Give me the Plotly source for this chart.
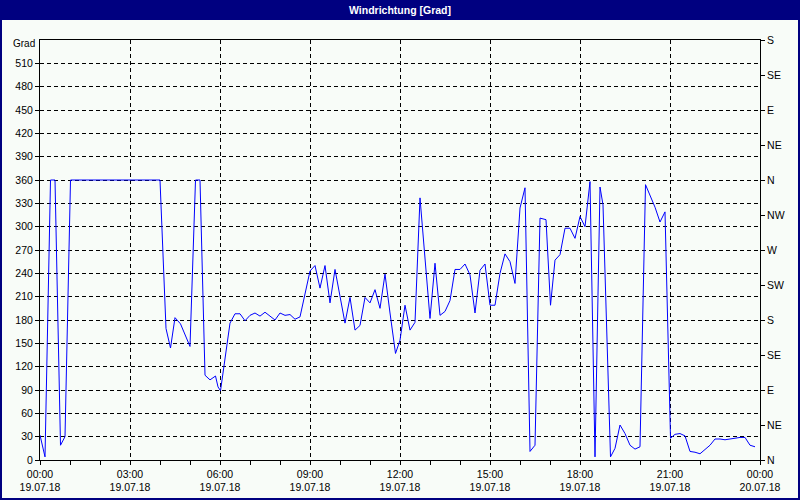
import plotly.graph_objects as go

# ---- data ----
times = ["00:00","00:10","00:21","00:30","00:41","00:50","01:01","04:00","04:12","04:21",
         "04:30","04:41","05:00","05:11","05:20","05:30","05:40","05:51","05:56","06:01",
         "06:20","06:30","06:40","06:50","07:00","07:10","07:20","07:30","07:40","07:50",
         "08:00","08:10","08:20","08:30","08:40","08:50","09:00","09:10","09:20","09:30",
         "09:40","09:50","10:00","10:10","10:20","10:30","10:40","10:50","11:00","11:10",
         "11:20","11:30","11:40","11:51","12:00","12:10","12:20","12:30","12:40","13:00",
         "13:10","13:20","13:30","13:40","13:50","14:00","14:10","14:20","14:30","14:40",
         "14:50","15:00","15:10","15:20","15:30","15:40","15:50","16:00","16:10","16:20",
         "16:30","16:40","16:52","17:01","17:10","17:20","17:30","17:40","17:50","18:00",
         "18:10","18:20","18:30","18:40","18:46","19:01","19:10","19:20","19:30","19:40",
         "19:50","20:00","20:11","20:20","20:30","20:40","20:50","21:01","21:10","21:20",
         "21:30","21:40","21:50","22:00","22:10","22:20","22:30","22:40","22:50","23:00",
         "23:10","23:20","23:30","23:40","23:50"]
direction = [32, 4, 360, 360, 19, 30, 360, 360, 169, 144,
             183, 175, 146, 360, 360, 109, 103, 108, 94, 89,
             176, 188, 188, 179, 186, 189, 185, 190, 185, 180,
             189, 186, 187, 181, 184, 214, 243, 250, 221, 250,
             202, 245, 208, 176, 209, 167, 173, 209, 202, 219,
             195, 239, 189, 137, 154, 199, 167, 177, 337, 182,
             253, 186, 191, 205, 245, 245, 252, 238, 189, 244,
             252, 199, 199, 240, 265, 255, 227, 324, 350, 11,
             19, 311, 309, 199, 257, 264, 298, 298, 285, 313,
             300, 358, 4, 351, 328, 4, 15, 45, 34, 19,
             14, 17, 354, 340, 325, 306, 319, 28, 33, 34,
             31, 11, 10, 8, 13, 19, 27, 27, 26, 27,
             28, 29, 29, 19, 17]

day = "2018-07-19"
x_start = "2018-07-19 00:00"
x_end = "2018-07-20 00:00"

left_ticks = list(range(0, 540, 30))
right_ticks = list(range(0, 541, 45))
right_labels = ["N", "NE", "E", "SE", "S", "SW", "W", "NW", "N", "NE", "E", "SE", "S"]

title_text = "Windrichtung [Grad]"
unit_text = "Grad"

# ---- figure ----
navy = "#000080"
bg = "#f8fcf8"
font_family = "Liberation Sans, Arial, sans-serif"

xs = [f"{day} {t}" for t in times]

fig = go.Figure()
fig.add_trace(go.Scatter(x=xs, y=direction, mode="lines",
                         line=dict(color="#0000ff", width=1),
                         showlegend=False, hoverinfo="x+y"))
fig.add_trace(go.Scatter(x=[], y=[], yaxis="y2", showlegend=False, hoverinfo="skip"))

W, H = 800, 500
L, R, T, B = 40, 40, 40, 40
pw, ph = W - L - R, H - T - B

def px(xp):
    return (xp - L) / pw

def py(yp):
    return (H - B - yp) / ph

fig.update_layout(
    template="none",
    width=W, height=H,
    margin=dict(l=L, r=R, t=T, b=B, pad=0, autoexpand=False),
    paper_bgcolor=navy,
    plot_bgcolor=bg,
    font=dict(family=font_family, size=10.5, color="black"),
    showlegend=False,
    shapes=[
        dict(type="rect", xref="paper", yref="paper",
             x0=px(2), x1=px(798), y0=py(498), y1=py(20),
             fillcolor=bg, line=dict(width=0), layer="below"),
    ],
    annotations=[
        dict(text=f"<b>{title_text}</b>", xref="paper", yref="paper",
             x=0.5, y=py(10), xanchor="center", yanchor="middle",
             showarrow=False, font=dict(color="white", size=10.5, family=font_family)),
        dict(text=unit_text, xref="paper", yref="paper",
             x=px(37), y=py(44), xanchor="right", yanchor="middle",
             showarrow=False, font=dict(color="black", size=10, family=font_family)),
    ],
    xaxis=dict(
        type="date", range=[x_start, x_end], automargin=False,
        dtick=3 * 3600000, tick0=x_start,
        tickformat="%H:%M<br>%d.%m.%y",
        ticks="outside", ticklen=4, tickcolor="black",
        showline=True, linecolor="black", linewidth=1, mirror=True,
        showgrid=True, gridcolor="black", gridwidth=1, griddash="4px,3px",
        minor=dict(dtick=3600000, ticks="outside", ticklen=4, tickcolor="black", showgrid=False),
        zeroline=False, fixedrange=True,
        tickfont=dict(size=10.5, color="black"),
    ),
    yaxis=dict(
        range=[0, 540], automargin=False,
        tickmode="array", tickvals=left_ticks,
        ticks="outside", ticklen=4, tickcolor="black",
        showline=True, linecolor="black", linewidth=1,
        showgrid=True, gridcolor="black", gridwidth=1, griddash="4px,3px",
        zeroline=False, fixedrange=True,
        tickfont=dict(size=10.5, color="black"),
    ),
    yaxis2=dict(
        range=[0, 540], overlaying="y", side="right", automargin=False,
        tickmode="array", tickvals=right_ticks, ticktext=right_labels,
        ticks="outside", ticklen=4, tickcolor="black",
        showline=True, linecolor="black", linewidth=1,
        showgrid=False, zeroline=False, fixedrange=True,
        tickfont=dict(size=10.5, color="black"),
    ),
)

fig.write_html("out.html", config={"displayModeBar": False},
               post_script="document.body.style.margin='0';document.body.style.overflow='hidden';")
